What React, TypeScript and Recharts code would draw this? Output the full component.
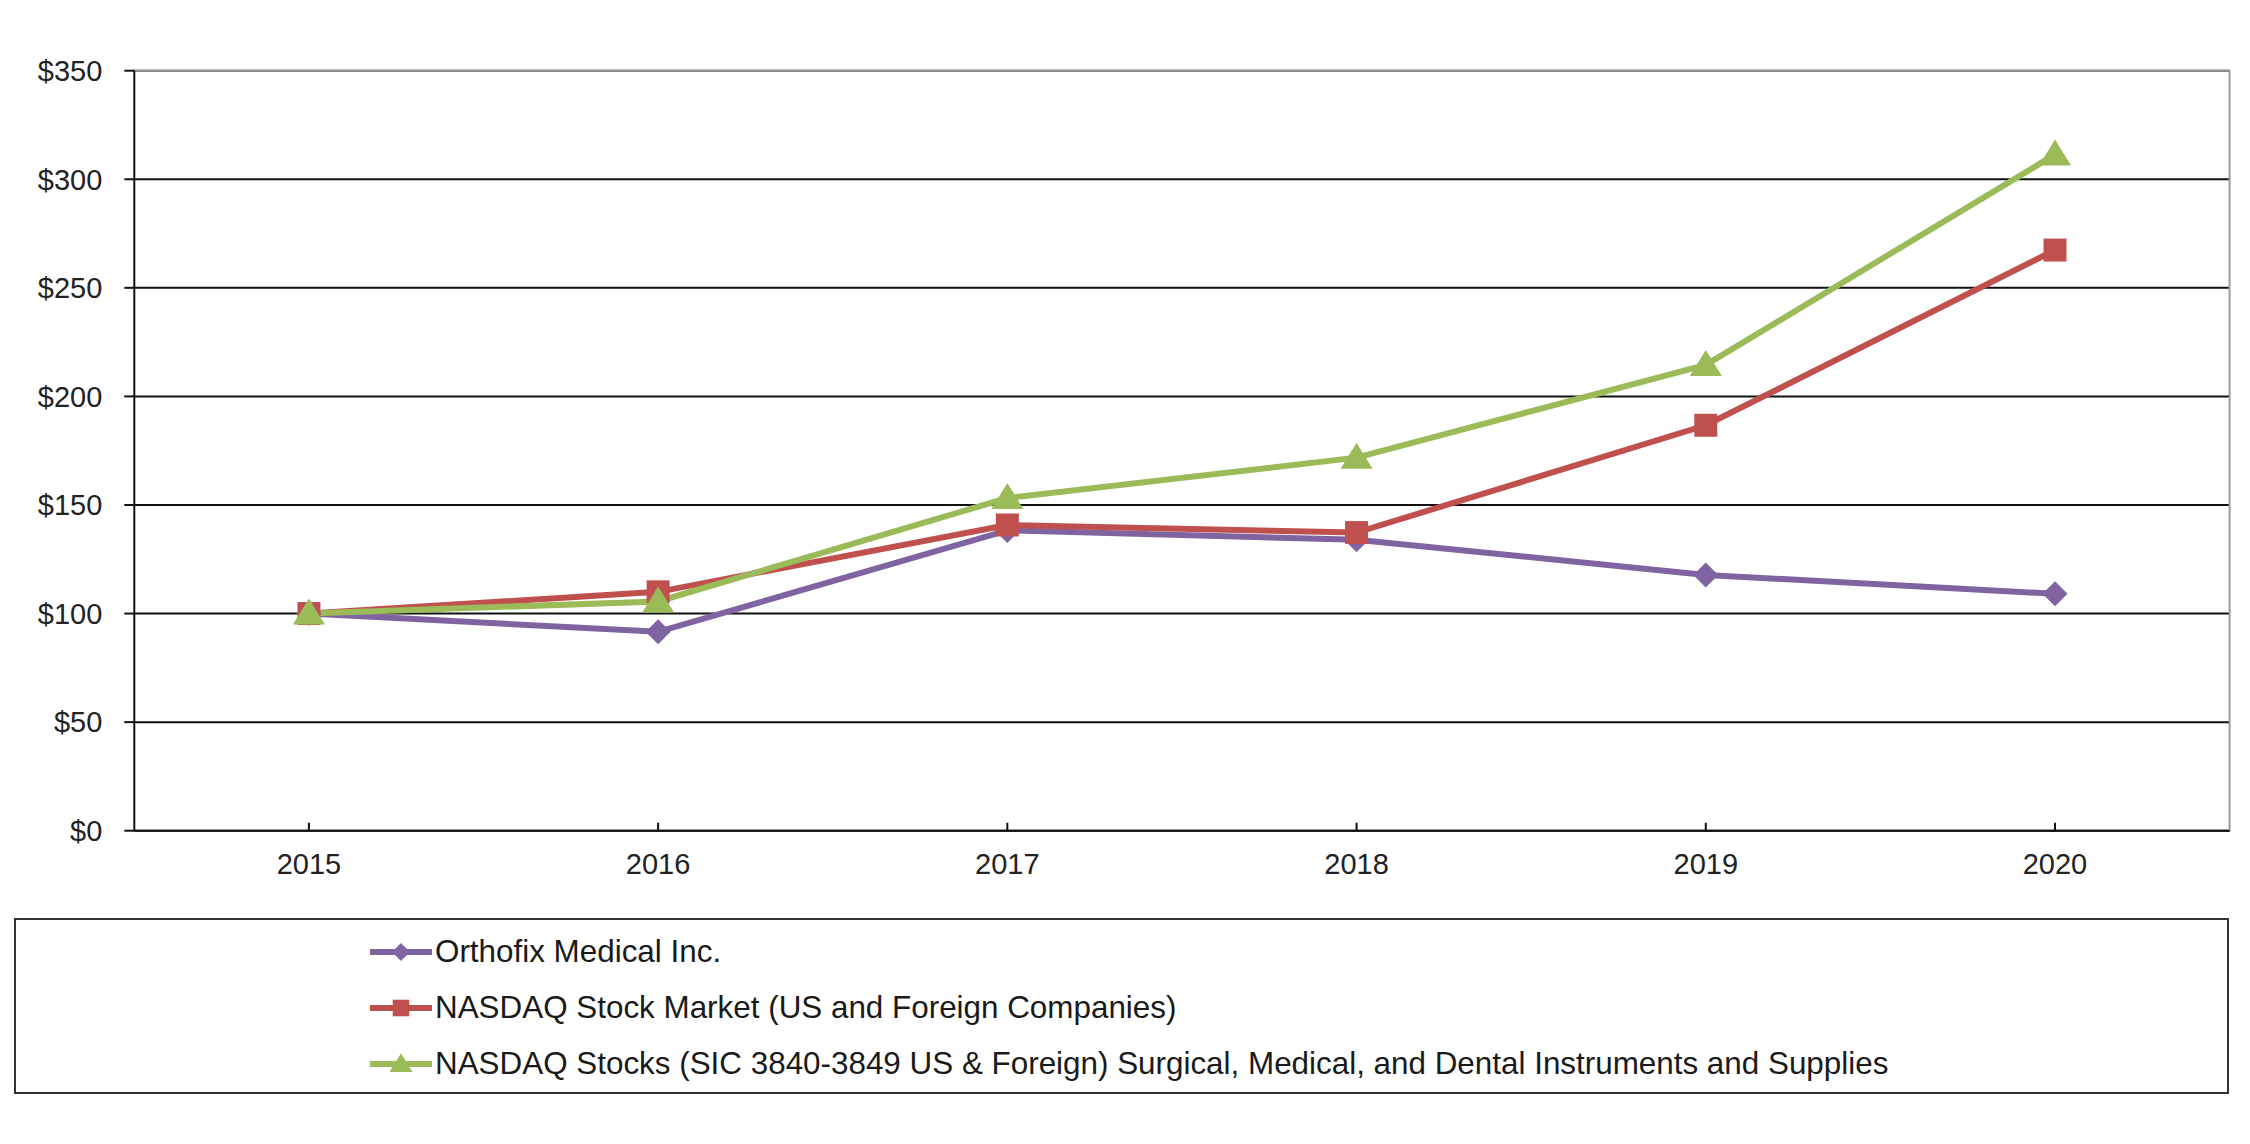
import React from "react";
import { LineChart, Line, XAxis, YAxis, CartesianGrid, Legend } from "recharts";

const years = ["2015", "2016", "2017", "2018", "2019", "2020"];
const orthofix = [100, 91.6, 138.3, 134, 117.8, 109.1];
const nasdaq = [100, 110, 140.8, 137.3, 186.7, 267.4];
const surgical = [100, 105.6, 153.2, 171.8, 214.5, 311.4];
const yTicks = [0, 50, 100, 150, 200, 250, 300, 350];

const seriesNames = {
  orthofix: "Orthofix Medical Inc.",
  nasdaq: "NASDAQ Stock Market (US and Foreign Companies)",
  surgical:
    "NASDAQ Stocks (SIC 3840-3849 US & Foreign) Surgical, Medical, and Dental Instruments and Supplies",
};

const colors = {
  orthofix: "#8064A2",
  nasdaq: "#C0504D",
  surgical: "#9BBB59",
};

const data = years.map((year, i) => ({
  year,
  orthofix: orthofix[i],
  nasdaq: nasdaq[i],
  surgical: surgical[i],
}));

const FONT = '"Liberation Sans", Arial, sans-serif';

type Shape = "diamond" | "square" | "triangle";

function markerPath(shape: Shape, cx: number, cy: number, s: number) {
  if (shape === "diamond") {
    const w = 12.5 * s;
    const h = 12.5 * s;
    return `M${cx},${cy - h}L${cx + w},${cy}L${cx},${cy + h}L${cx - w},${cy}Z`;
  }
  if (shape === "square") {
    const h = 11.5 * s;
    return `M${cx - h},${cy - h}H${cx + h}V${cy + h}H${cx - h}Z`;
  }
  const hw = 16 * s;
  return `M${cx},${cy - 15 * s}L${cx + hw},${cy + 11 * s}L${cx - hw},${cy + 11 * s}Z`;
}

const makeDot = (shape: Shape, color: string) => (props: any) => {
  const { cx, cy, index } = props;
  if (cx == null || cy == null) return <g key={`${shape}-${index}`} />;
  return <path key={`${shape}-${index}`} d={markerPath(shape, cx, cy, 1)} fill={color} />;
};

const shapes: Record<string, Shape> = {
  orthofix: "diamond",
  nasdaq: "square",
  surgical: "triangle",
};

const legendOrder = ["orthofix", "nasdaq", "surgical"];
const rowCenters = [32, 88, 144];

// plot frame: gray top and right edges
const topEdge = (args: any) => (args && args.offset ? [args.offset.top] : []);
const rightEdge = (args: any) =>
  args && args.offset ? [args.offset.left + args.offset.width] : [];

function LegendBox() {
  return (
    <div
      style={{
        width: 2215,
        height: 176,
        border: "2px solid #333",
        boxSizing: "border-box",
        position: "relative",
        background: "#fff",
        fontFamily: FONT,
      }}
    >
      {legendOrder.map((key, i) => {
        const color = (colors as any)[key];
        return (
          <div
            key={key}
            style={{
              position: "absolute",
              left: 354,
              top: rowCenters[i] - 22,
              height: 44,
              display: "flex",
              alignItems: "center",
              whiteSpace: "nowrap",
            }}
          >
            <svg width={65} height={30} style={{ flex: "none" }}>
              <line x1={0} y1={15} x2={62} y2={15} stroke={color} strokeWidth={6} />
              <path d={markerPath(shapes[key], 31, 15, 0.72)} fill={color} />
            </svg>
            <span style={{ display: "inline-block", fontSize: 31.4, color: "#1a1a1a" }}>
              {(seriesNames as any)[key]}
            </span>
          </div>
        );
      })}
    </div>
  );
}

export default function App() {
  const tickStyle = { fontSize: 29, fill: "#222", fontFamily: FONT };
  return (
    <div style={{ position: "absolute", left: 0, top: 0, width: 2250, height: 1144, background: "#fff" }}>
      <LineChart
        width={2250}
        height={1144}
        data={data}
        margin={{ top: 70.7, right: 20.4, left: 34.3, bottom: 253.3 }}
      >
        <CartesianGrid vertical={false} stroke="#111" strokeWidth={2} />
        <CartesianGrid
          stroke="#9a9a9a"
          strokeWidth={2}
          horizontalCoordinatesGenerator={topEdge}
          verticalCoordinatesGenerator={rightEdge}
        />
        <XAxis
          dataKey="year"
          height={60}
          padding={{ left: 174.6, right: 174.6 }}
          axisLine={{ stroke: "#111", strokeWidth: 2 }}
          tickLine={{ stroke: "#111", strokeWidth: 2 }}
          tickSize={-8}
          tickMargin={31}
          tick={tickStyle}
        />
        <YAxis
          width={100}
          domain={[0, 350]}
          ticks={yTicks}
          interval={0}
          tickFormatter={(v) => `$${v}`}
          axisLine={{ stroke: "#111", strokeWidth: 2 }}
          tickLine={{ stroke: "#111", strokeWidth: 2 }}
          tickSize={10}
          tickMargin={22}
          tick={tickStyle}
        />
        <Legend
          layout="vertical"
          align="center"
          verticalAlign="middle"
          wrapperStyle={{ left: 14, top: 918, width: 2215, height: 176 }}
          content={() => <LegendBox />}
        />
        <Line
          type="linear"
          dataKey="orthofix"
          name={seriesNames.orthofix}
          stroke={colors.orthofix}
          strokeWidth={6}
          dot={makeDot("diamond", colors.orthofix)}
          activeDot={false}
          isAnimationActive={false}
        />
        <Line
          type="linear"
          dataKey="nasdaq"
          name={seriesNames.nasdaq}
          stroke={colors.nasdaq}
          strokeWidth={6}
          dot={makeDot("square", colors.nasdaq)}
          activeDot={false}
          isAnimationActive={false}
        />
        <Line
          type="linear"
          dataKey="surgical"
          name={seriesNames.surgical}
          stroke={colors.surgical}
          strokeWidth={6}
          dot={makeDot("triangle", colors.surgical)}
          activeDot={false}
          isAnimationActive={false}
        />
      </LineChart>
    </div>
  );
}
